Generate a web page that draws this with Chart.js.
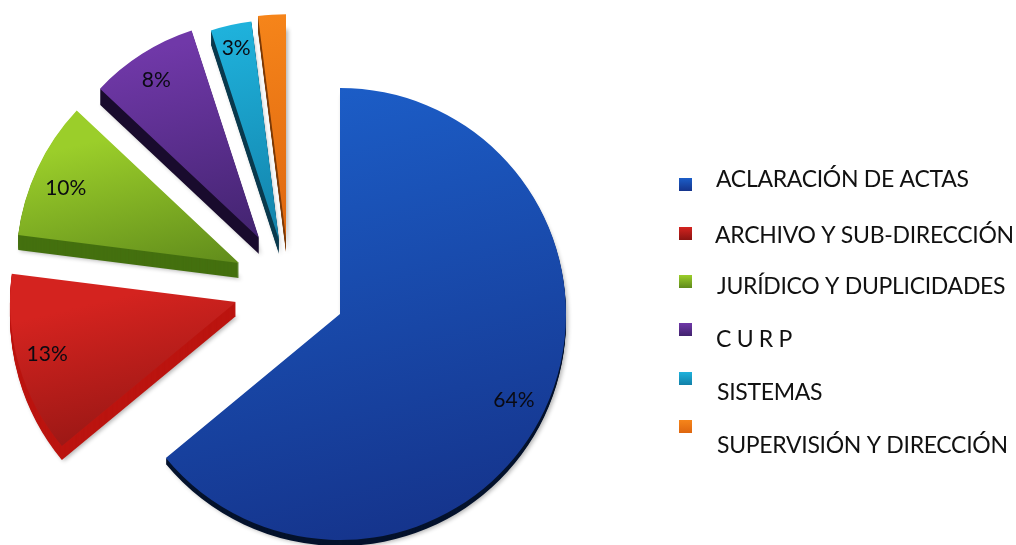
<!DOCTYPE html>
<html><head><meta charset="utf-8">
<style>html,body{margin:0;padding:0;background:#fff}canvas{display:block}</style>
<script src="https://cdn.jsdelivr.net/npm/chart.js@4"></script>
</head><body><canvas id="c" width="1016" height="545"></canvas>
<script>
const categories = ["ACLARACIÓN DE ACTAS","ARCHIVO Y SUB-DIRECCIÓN","JURÍDICO Y DUPLICIDADES","C U R P","SISTEMAS","SUPERVISIÓN Y DIRECCIÓN"];
const values = [64,13,10,8,3,2];
const percentLabels = ["64%","13%","10%","8%","3%",""];
const shadeLight = ["#1c5ec8","#d4231f","#9bce2a","#7038a8","#1fb2dc","#f6851a"];
const shadeDark  = ["#15348c","#8a1412","#5f8a1b","#41236e","#1280a8","#de660f"];
const wallColor  = ["#04122c","#bb1510","#44700f","#190b2d","#0b3a4e","#7d3c08"];
const wallDepth  = [6,14,15,16,14,14];
const explodeX = [0,-104,-101,-81,-61,-54];
const explodeY = [0,-12,-51,-76,-74,-76];
const radiusScale = [1,1,0.985,0.965,0.975,0.99];
const labelNudgeX = [-4,0,2,-1,-1,0];
const labelNudgeY = [3,-3,8,2,-5,0];
const legendTextY = [187,243,294,347,400,453];
const legendTextX = [716,715,717,716,717,717];
const legendBoxY  = [178,227,275,323,372,420];
const baseRadius = 226;

function sliceAngles(i){
  const total = values.reduce((a,b)=>a+b,0);
  let s = 0; for(let k=0;k<i;k++) s+=values[k];
  return [-Math.PI/2+s/total*2*Math.PI, -Math.PI/2+(s+values[i])/total*2*Math.PI];
}
function sliceFill(ctx){
  const i = ctx.dataIndex, area = ctx.chart.chartArea;
  if(!area) return shadeLight[i];
  const cx=(area.left+area.right)/2+explodeX[i], cy=(area.top+area.bottom)/2+explodeY[i];
  const r=baseRadius*radiusScale[i], [a,b]=sliceAngles(i);
  let ys=[cy];
  for(let t=0;t<=16;t++){const ang=a+(b-a)*t/16; ys.push(cy+Math.sin(ang)*r);}
  const top=Math.min(...ys), bot=Math.max(...ys), lean=(bot-top)*0.12;
  const g=ctx.chart.ctx.createLinearGradient(cx-lean,top,cx+lean,bot);
  g.addColorStop(0,shadeLight[i]); g.addColorStop(1,shadeDark[i]);
  return g;
}
const extruded = {
  id:'extruded',
  afterDatasetsUpdate(chart){
    chart.getDatasetMeta(0).data.forEach((arc,i)=>{
      arc.x+=explodeX[i]; arc.y+=explodeY[i];
      arc.outerRadius=baseRadius*radiusScale[i];
    });
  },
  beforeDatasetsDraw(chart){
    const c=chart.ctx;
    chart.getDatasetMeta(0).data.forEach((arc,i)=>{
      c.save();
      c.shadowColor='rgba(0,0,0,0.3)'; c.shadowBlur=4; c.shadowOffsetX=2; c.shadowOffsetY=1;
      c.fillStyle=wallColor[i];
      c.beginPath();
      c.moveTo(arc.x,arc.y+wallDepth[i]);
      c.arc(arc.x,arc.y+wallDepth[i],arc.outerRadius,arc.startAngle,arc.endAngle);
      c.closePath(); c.fill();
      c.shadowColor='transparent';
      for(let k=wallDepth[i]-1;k>=1;k--){
        c.beginPath();
        c.moveTo(arc.x,arc.y+k);
        c.arc(arc.x,arc.y+k,arc.outerRadius,arc.startAngle,arc.endAngle);
        c.closePath(); c.fill();
      }
      c.restore();
    });
  },
  afterDatasetsDraw(chart){
    const c=chart.ctx;
    c.save();
    c.font='21px Lato'; c.fillStyle='#0a0a12'; c.textAlign='center'; c.textBaseline='middle';
    chart.getDatasetMeta(0).data.forEach((arc,i)=>{
      const mid=(arc.startAngle+arc.endAngle)/2, d=arc.outerRadius*0.87;
      c.fillText(percentLabels[i],arc.x+Math.cos(mid)*d+labelNudgeX[i],arc.y+Math.sin(mid)*d+labelNudgeY[i]);
    });
    c.textAlign='left'; c.textBaseline='alphabetic'; c.font='23px Lato'; c.letterSpacing='-0.3px';
    categories.forEach((t,i)=>{
      const g=c.createLinearGradient(0,legendBoxY[i],0,legendBoxY[i]+13);
      g.addColorStop(0,shadeLight[i]); g.addColorStop(1,shadeDark[i]);
      c.fillStyle=g; c.fillRect(679,legendBoxY[i],13,13);
      c.fillStyle='#111';
      c.fillText(t,legendTextX[i],legendTextY[i]);
    });
    c.restore();
  }
};
new Chart(document.getElementById('c'),{
  type:'pie',
  data:{labels:categories,datasets:[{data:values,backgroundColor:sliceFill,borderWidth:0}]},
  options:{
    responsive:false,animation:false,radius:baseRadius,
    layout:{padding:{left:0,right:336,top:83,bottom:0}},
    plugins:{legend:{display:false},tooltip:{enabled:false}}
  },
  plugins:[extruded]
});
</script></body></html>
